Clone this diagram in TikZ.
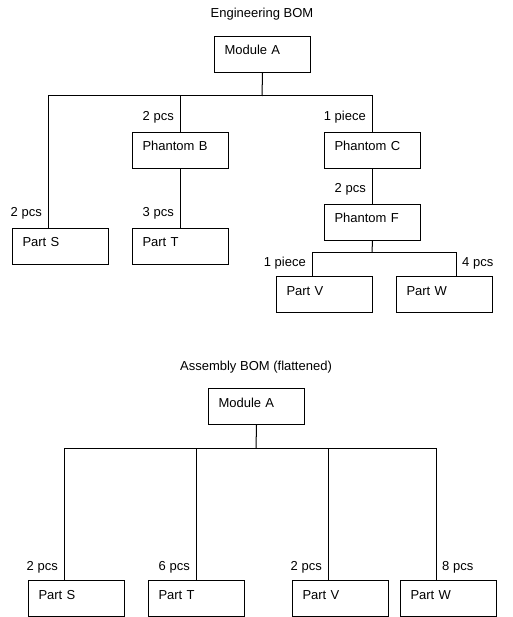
\documentclass[tikz,border=0pt]{standalone}
\usepackage{fontspec}
\setmainfont{Liberation Sans}
\begin{document}
\begin{tikzpicture}[x=1pt,y=-1pt,
  every node/.style={font=\fontsize{13}{15}\selectfont},
  bom/.style={draw=black,line width=1pt,rectangle,anchor=north west,
    minimum width=96pt,minimum height=36pt,inner xsep=10pt,inner ysep=0pt,
    text width=76pt,align=left,text height=18.5pt,text depth=17.5pt},
  qty/.style={inner sep=0pt,anchor=base east},
  qtyr/.style={inner sep=0pt,anchor=base west},
  ttl/.style={inner sep=0pt,anchor=base},
  wire/.style={line width=1pt,black}]
\useasboundingbox (0,0) rectangle (512,617);
\fill[white] (0,0) rectangle (512,617);
% ---------- Engineering BOM ----------
\node[ttl] (t1) at (262,18) {Engineering BOM};
\node[bom] (ma) at (214,36) {Module A};
\node[bom] (pb) at (132,132) {Phantom B};
\node[bom] (pc) at (324,132) {Phantom C};
\node[bom] (ps) at (12,228) {Part S};
\node[bom] (pt) at (132,228) {Part T};
\node[bom] (pf) at (324,204) {Phantom F};
\node[bom] (pv) at (276,276) {Part V};
\node[bom] (pw) at (396,276) {Part W};
\coordinate (j1) at (262,96);
\coordinate (s1) at (48,96);
\coordinate (s1b) at (48,228);
\coordinate (j2) at (372,252);
\coordinate (v1) at (312,252);
\coordinate (v1b) at (312,276);
\coordinate (w1) at (456,252);
\coordinate (w1b) at (456,276);
\draw[wire] (ma.south) -- (j1);
\draw[wire] (j1) -- (s1) -- (s1b);
\draw[wire] (j1) -| (pb.north);
\draw[wire] (j1) -| (pc.north);
\draw[wire] (pb.south) -- (pt.north);
\draw[wire] (pc.south) -- (pf.north);
\draw[wire] (pf.south) -- (j2);
\draw[wire] (j2) -- (v1) -- (v1b);
\draw[wire] (j2) -- (w1) -- (w1b);
\node[qty] (q1) at (174,121) {2 pcs};
\node[qty] (q2) at (366,121) {1 piece};
\node[qty] (q3) at (366,193) {2 pcs};
\node[qty] (q4) at (42,217) {2 pcs};
\node[qty] (q5) at (174,217) {3 pcs};
\node[qty] (q6) at (306,266) {1 piece};
\node[qtyr] (q7) at (462,266) {4 pcs};
% ---------- Assembly BOM ----------
\node[ttl] (t2) at (256,370) {Assembly BOM (flattened)};
\node[bom] (mb) at (208,388) {Module A};
\node[bom] (bs) at (28,580) {Part S};
\node[bom] (bt) at (148,580) {Part T};
\node[bom] (bv) at (292,580) {Part V};
\node[bom] (bw) at (400,580) {Part W};
\coordinate (j3) at (256,448);
\coordinate (k1) at (64,448);
\coordinate (k2) at (196,448);
\coordinate (k3) at (328,448);
\coordinate (k4) at (436,448);
\draw[wire] (mb.south) -- (j3);
\draw[wire] (k1) -- (k4);
\draw[wire] (k1) -- (k1 |- bs.north);
\draw[wire] (k2) -- (k2 |- bt.north);
\draw[wire] (k3) -- (k3 |- bv.north);
\draw[wire] (k4) -- (k4 |- bw.north);
\node[qty] (r1) at (58,570) {2 pcs};
\node[qty] (r2) at (190,570) {6 pcs};
\node[qty] (r3) at (322,570) {2 pcs};
\node[qtyr] (r4) at (442,570) {8 pcs};
\end{tikzpicture}
\end{document}
